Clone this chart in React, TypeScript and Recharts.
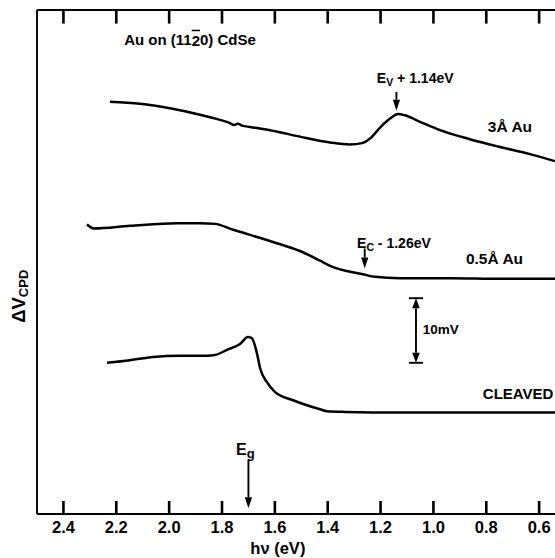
import React from 'react';
import { LineChart, Line, XAxis, YAxis, ReferenceLine, ReferenceDot } from 'recharts';

// x axis: photon energy h\u03bd (eV), drawn reversed
const tickValues = [2.4, 2.2, 2.0, 1.8, 1.6, 1.4, 1.2, 1.0, 0.8, 0.6];
const tickLabels = ['2.4', '2.2', '2.0', '1.8', '1.6', '1.4', '1.2', '1.0', '0.8', '0.6'];

// 3 \u00c5 Au curve (energy eV, \u0394V mV, arbitrary offset)
const au3Energy = [2.224, 2.110, 1.997, 1.883, 1.808, 1.770, 1.755, 1.740, 1.724, 1.694, 1.618, 1.505, 1.391, 1.316, 1.270, 1.240, 1.202, 1.164, 1.134, 1.108, 1.051, 0.975, 0.862, 0.748, 0.635, 0.540];
const au3Signal = [63.8, 63.5, 62.8, 61.8, 61.0, 60.5, 60.2, 60.4, 60.1, 59.9, 59.4, 58.4, 57.5, 57.2, 57.4, 58.1, 59.8, 61.2, 61.9, 61.7, 60.7, 59.4, 58.0, 56.8, 55.7, 54.6];

// 0.5 \u00c5 Au curve
const au05Energy = [2.311, 2.285, 2.148, 1.970, 1.883, 1.827, 1.758, 1.694, 1.607, 1.505, 1.429, 1.391, 1.267, 1.221, 1.127, 0.937, 0.748, 0.540];
const au05Signal = [44.8, 44.2, 44.6, 45.0, 45.0, 44.9, 44.0, 43.2, 42.1, 40.7, 39.2, 38.4, 37.1, 36.7, 36.5, 36.5, 36.4, 36.4];

// cleaved surface curve
const cleavedEnergy = [2.235, 2.148, 2.061, 1.959, 1.857, 1.827, 1.781, 1.732, 1.702, 1.687, 1.668, 1.656, 1.630, 1.600, 1.531, 1.429, 1.403, 1.335, 1.127, 0.540];
const cleavedSignal = [23.4, 23.8, 24.3, 24.5, 24.5, 24.6, 25.4, 26.3, 27.4, 27.2, 24.9, 22.6, 20.4, 18.9, 17.6, 16.2, 15.9, 15.8, 15.7, 15.7];

// marked energies
const evMarker = 1.14;
const ecMarker = 1.26;
const egMarker = 1.70;
const scaleBarMv = [23.4, 33.4];

const Y_MIN = 0;
const Y_MAX = 78;

const zip = (e: number[], v: number[]) => e.map((x, i) => ({ e: x, v: v[i] }));
const au3Data = zip(au3Energy, au3Signal);
const au05Data = zip(au05Energy, au05Signal);
const cleavedData = zip(cleavedEnergy, cleavedSignal);

const FONT = '"Liberation Sans", Arial, sans-serif';
const INK = '#000';

const BottomTick = (p: any) => {
  const v = p.payload?.value;
  const i = tickValues.indexOf(v);
  const x = Number(p.x);
  const y = Number(p.y);
  return (
    <g>
      <rect x={x - 1.3} y={y - 13} width={2.6} height={13} fill={INK} />
      <text
        x={x}
        y={y + 13}
        textAnchor="middle"
        dominantBaseline="central"
        fontFamily={FONT}
        fontWeight="bold"
        fontSize={16.5}
        fill={INK}
      >
        {i >= 0 ? tickLabels[i] : String(v)}
      </text>
    </g>
  );
};

const TickMarkShape = (p: any) => (
  <rect x={Number(p.x1) - 1.3} y={Math.min(p.y1, p.y2)} width={2.6} height={Math.abs(p.y2 - p.y1)} fill={INK} />
);

const ArrowShape = (p: any) => {
  const { x1, y1, x2, y2 } = p;
  const head = 11;
  const hw = 3.6;
  const dir = y2 > y1 ? 1 : -1;
  return (
    <g>
      <line x1={x1} y1={y1} x2={x2} y2={y2 - dir * head} stroke={INK} strokeWidth={1.9} />
      <polygon points={`${x2 - hw},${y2 - dir * head} ${x2 + hw},${y2 - dir * head} ${x2},${y2}`} fill={INK} />
    </g>
  );
};

const ScaleBarShape = (p: any) => {
  const { x1, y1, y2 } = p;
  const top = Math.min(y1, y2);
  const bot = Math.max(y1, y2);
  const head = 10;
  const hw = 3.8;
  const cap = 7;
  return (
    <g>
      <line x1={x1 - cap} y1={top} x2={x1 + cap} y2={top} stroke={INK} strokeWidth={1.9} />
      <line x1={x1 - cap} y1={bot} x2={x1 + cap} y2={bot} stroke={INK} strokeWidth={1.9} />
      <line x1={x1} y1={top + head} x2={x1} y2={bot - head} stroke={INK} strokeWidth={1.9} />
      <polygon points={`${x1 - hw},${top + head} ${x1 + hw},${top + head} ${x1},${top}`} fill={INK} />
      <polygon points={`${x1 - hw},${bot - head} ${x1 + hw},${bot - head} ${x1},${bot}`} fill={INK} />
    </g>
  );
};

const textAt = (content: React.ReactNode, size = 15, anchor: 'start' | 'middle' = 'start') => (p: any) => (
  <text
    x={p.cx}
    y={p.cy}
    textAnchor={anchor}
    dominantBaseline="central"
    fontFamily={FONT}
    fontWeight="bold"
    fontSize={size}
    fill={INK}
  >
    {content}
  </text>
);

const YTitle = (props: any) => {
  const vb = props.viewBox || { x: 0, y: 10, width: 37, height: 504 };
  const cx = vb.x + 18;
  const cy = vb.y + vb.height * 0.568;
  return (
    <text
      transform={`translate(${cx},${cy}) rotate(-90)`}
      textAnchor="middle"
      dominantBaseline="central"
      fontFamily={FONT}
      fontWeight="bold"
      fontSize={18.5}
      fill={INK}
    >
      {'\u0394V'}
      <tspan fontSize={13} dy={5}>CPD</tspan>
    </text>
  );
};

const XTitle = (props: any) => {
  const vb = props.viewBox || { x: 37, y: 514, width: 518, height: 44 };
  return (
    <text
      x={vb.x + vb.width * 0.465}
      y={vb.y + 34}
      textAnchor="middle"
      dominantBaseline="central"
      fontFamily={FONT}
      fontWeight="bold"
      fontSize={16.5}
      fill={INK}
    >
      {'h\u03bd (eV)'}
    </text>
  );
};

export default function App() {
  const domain: [number, number] = [0.54, 2.5];
  const topTickLen = 2.1; // inward top tick length in data units
  return (
    <div style={{ position: 'absolute', left: 0, top: 0, background: '#fff' }}>
      <LineChart width={555} height={558} margin={{ top: 0, right: 0, bottom: 0, left: 0 }}>
        <XAxis
          dataKey="e"
          type="number"
          domain={domain}
          reversed
          allowDataOverflow
          ticks={tickValues}
          height={44}
          tickSize={0}
          tickMargin={0}
          interval={0}
          axisLine={{ stroke: INK, strokeWidth: 1.9 }}
          tickLine={false}
          tick={<BottomTick />}
          label={<XTitle />}
        />
        <XAxis
          xAxisId="top"
          orientation="top"
          dataKey="e"
          type="number"
          domain={domain}
          reversed
          allowDataOverflow
          ticks={tickValues}
          height={10}
          tick={false}
          tickLine={false}
          axisLine={{ stroke: INK, strokeWidth: 1.9 }}
        />
        <YAxis
          type="number"
          domain={[Y_MIN, Y_MAX]}
          allowDataOverflow
          width={37}
          tick={false}
          tickLine={false}
          axisLine={{ stroke: INK, strokeWidth: 1.9 }}
          label={<YTitle />}
        />

        {tickValues.map((t) => (
          <ReferenceLine key={`t${t}`} ifOverflow="visible" segment={[{ x: t, y: Y_MAX }, { x: t, y: Y_MAX - topTickLen }]} shape={TickMarkShape} />
        ))}

        <Line data={au3Data} dataKey="v" type="monotone" stroke={INK} strokeWidth={2.5} dot={false} isAnimationActive={false} />
        <Line data={au05Data} dataKey="v" type="monotone" stroke={INK} strokeWidth={2.5} dot={false} isAnimationActive={false} />
        <Line data={cleavedData} dataKey="v" type="monotone" stroke={INK} strokeWidth={2.5} dot={false} isAnimationActive={false} />

        <ReferenceLine ifOverflow="visible" segment={[{ x: evMarker, y: 65.3 }, { x: evMarker, y: 62.4 }]} shape={ArrowShape} />
        <ReferenceLine ifOverflow="visible" segment={[{ x: ecMarker, y: 41.1 }, { x: ecMarker, y: 38.0 }]} shape={ArrowShape} />
        <ReferenceLine ifOverflow="visible" segment={[{ x: egMarker, y: 8.4 }, { x: egMarker, y: 0.9 }]} shape={ArrowShape} />
        <ReferenceLine ifOverflow="visible" segment={[{ x: 1.066, y: scaleBarMv[0] }, { x: 1.066, y: scaleBarMv[1] }]} shape={ScaleBarShape} />

        <ReferenceDot ifOverflow="visible" x={1.921} y={73.4} r={0} shape={textAt(<>{'Au on (11'}<tspan style={{ textDecoration: 'overline' }}>2</tspan>{'0) CdSe'}</>, 15, 'middle')} />
        <ReferenceDot ifOverflow="visible" x={1.214} y={67.4} r={0} shape={textAt(<>{'E'}<tspan fontSize={10.5} dy={4}>V</tspan><tspan dy={-4}>{' + 1.14eV'}</tspan></>, 14)} />
        <ReferenceDot ifOverflow="visible" x={0.794} y={59.9} r={0} shape={textAt('3\u00c5  Au', 15.5)} />
        <ReferenceDot ifOverflow="visible" x={1.289} y={41.9} r={0} shape={textAt(<>{'E'}<tspan fontSize={10.5} dy={4}>C</tspan><tspan dy={-4}>{' - 1.26eV'}</tspan></>, 14)} />
        <ReferenceDot ifOverflow="visible" x={0.877} y={39.5} r={0} shape={textAt('0.5\u00c5  Au', 15.5)} />
        <ReferenceDot ifOverflow="visible" x={1.040} y={28.5} r={0} shape={textAt('10mV', 13.5)} />
        <ReferenceDot ifOverflow="visible" x={0.813} y={18.7} r={0} shape={textAt('CLEAVED', 15)} />
        <ReferenceDot ifOverflow="visible" x={1.747} y={10.0} r={0} shape={textAt(<>{'E'}<tspan fontSize={13} dy={4}>g</tspan></>, 16)} />
      </LineChart>
    </div>
  );
}
